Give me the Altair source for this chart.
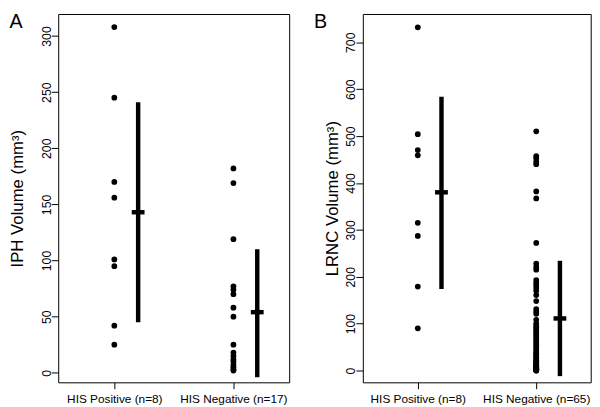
import altair as alt
import pandas as pd

FONT = "Liberation Sans"

# ---------------- data ----------------
group_labels_A = ["HIS Positive (n=8)", "HIS Negative (n=17)"]
group_labels_B = ["HIS Positive (n=8)", "HIS Negative (n=65)"]

iph_positive = [308, 245, 170, 156, 101, 95, 42, 25]
iph_negative = [182, 169, 119, 77, 74, 70, 58, 50, 25, 18, 15, 12, 10, 7, 5, 3, 2]
iph_mean = [143, 54]
iph_low = [45, -4]
iph_high = [241, 110]

lrnc_positive = [732, 504, 470, 459, 315, 287, 179, 90]
lrnc_negative = [510, 457, 452, 445, 440, 382, 367, 272, 228, 221, 215,
                 193, 187, 182, 176, 170, 161, 148, 131, 126, 121,
                 108, 100, 96, 92, 88, 84, 80, 76, 72, 68, 64, 60, 56, 52,
                 48, 44, 40, 37, 34, 31, 28, 25, 22, 20, 18, 16, 14, 12, 10,
                 9, 8, 7, 6, 5, 4, 3, 3, 2, 2, 1, 1, 1, 0, 0]
lrnc_mean = [380, 111]
lrnc_low = [174, -12]
lrnc_high = [584, 234]

iph_ticks = [0, 50, 100, 150, 200, 250, 300]
lrnc_ticks = [0, 100, 200, 300, 400, 500, 600, 700]


def panel(pos, neg, means, lows, highs, labels, yticks, ydomain, xdomain,
          title, letter, width, title_x, letter_x):
    height = 374
    pts = pd.DataFrame({"g": [1] * len(pos) + [2] * len(neg), "v": pos + neg})
    summ = pd.DataFrame({"g": [1.2, 2.2], "v": means, "lo": lows, "hi": highs})
    lab = pd.DataFrame({"t": [letter]})

    label_expr = f"datum.value == 1 ? '{labels[0]}' : '{labels[1]}'"
    xscale = alt.Scale(domain=xdomain, nice=False, zero=False)
    yscale = alt.Scale(domain=ydomain, nice=False, zero=False)
    xaxis = alt.Axis(values=[1, 2], labelExpr=label_expr, title=None,
                     grid=False, domain=False, tickSize=6.5, tickColor="black",
                     tickWidth=1, labelFontSize=12, labelColor="black",
                     labelFont=FONT, labelBaseline="alphabetic",
                     labelPadding=14.5, labelFlush=False, labelOverlap=False)
    yaxis = alt.Axis(values=yticks, title=title, grid=False, domain=False,
                     tickSize=7, tickColor="black", tickWidth=1,
                     labelFontSize=12.5, labelColor="black", labelFont=FONT,
                     labelAngle=270, labelAlign="center",
                     labelBaseline="alphabetic", labelPadding=1,
                     labelFlush=False, labelOverlap=False,
                     titleFont=FONT, titleFontSize=17, titleFontWeight="normal",
                     titleColor="black", titleAngle=270, titleAlign="center",
                     titleBaseline="alphabetic", titleX=title_x,
                     titleY=height / 2)

    dots = alt.Chart(pts).mark_circle(size=34, color="black", opacity=1).encode(
        x=alt.X("g:Q", scale=xscale, axis=xaxis),
        y=alt.Y("v:Q", scale=yscale, axis=yaxis),
    )
    bars = alt.Chart(summ).mark_rule(color="black", strokeWidth=4.5,
                                     strokeCap="butt").encode(
        x=alt.X("g:Q", scale=xscale, axis=xaxis),
        y=alt.Y("lo:Q", scale=yscale, axis=yaxis),
        y2="hi:Q",
    )
    mean_tick = alt.Chart(summ).mark_tick(orient="horizontal", thickness=4.5,
                                          size=13, color="black",
                                          opacity=1).encode(
        x=alt.X("g:Q", scale=xscale, axis=xaxis),
        y=alt.Y("v:Q", scale=yscale, axis=yaxis),
    )
    letter_mark = alt.Chart(lab).mark_text(font=FONT, fontSize=20,
                                           align="left", baseline="top",
                                           color="black").encode(
        x=alt.value(letter_x), y=alt.value(-2), text="t:N")
    return alt.layer(dots, bars, mean_tick, letter_mark).properties(
        width=width, height=height)


A = panel(iph_positive, iph_negative, iph_mean, iph_low, iph_high,
          group_labels_A, iph_ticks, [-8.5, 319.6], [0.529, 2.468],
          "IPH Volume (mm³)", "A", 234.5, -36.5, -49.5)
B = panel(lrnc_positive, lrnc_negative, lrnc_mean, lrnc_low, lrnc_high,
          group_labels_B, lrnc_ticks, [-25.2, 760.3], [0.536, 2.46],
          "LRNC Volume (mm³)", "B", 231.4, -25.6, -49.6)

chart = alt.hconcat(A, B, spacing=74.3, bounds="flush").properties(
    padding={"left": 0, "top": 0, "right": 0, "bottom": 0}
).configure(font=FONT).configure_view(stroke="black", strokeWidth=1)

chart.save("out.html", embed_options={"renderer": "svg", "actions": False})
